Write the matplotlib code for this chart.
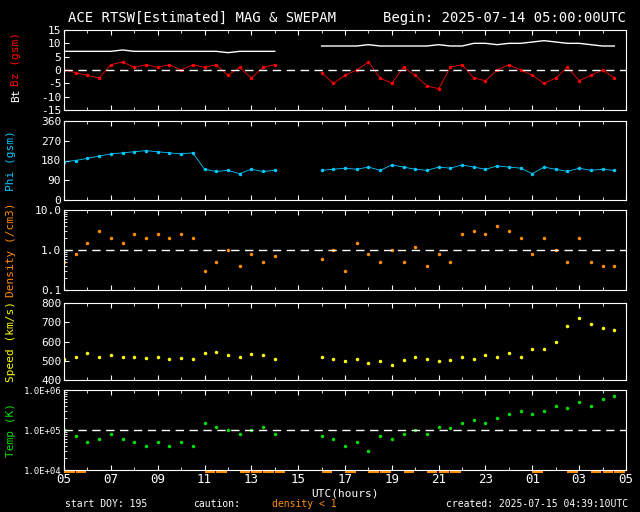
import numpy as np
import matplotlib
matplotlib.use("Agg")
import matplotlib.pyplot as plt
import matplotlib.transforms as mtransforms

nan = np.nan
# half-hour samples, hours since 2025-07-14 05:00 UTC
hours = np.arange(0, 24, 0.5)
gap = [nan, nan, nan]

bt = [7, 7, 7, 7, 7, 7.5, 7, 7, 7, 7, 7, 7, 7, 7, 6.5, 7, 7, 7, 7] + gap + \
     [9, 9, 9, 9, 9.5, 9, 9, 9, 9, 9, 9.5, 9, 9, 10, 10, 9.5, 10, 10, 10.5, 11, 10.5, 10, 10, 9.5, 9, 9]
bz = [0, -1, -2, -3, 2, 3, 1, 2, 1, 2, 0, 2, 1, 2, -2, 1, -3, 1, 2] + gap + \
     [-1, -5, -2, 0, 3, -3, -5, 1, -2, -6, -7, 1, 2, -3, -4, 0, 2, 0, -2, -5, -3, 1, -4, -2, 0, -3]
phi = [175, 180, 190, 200, 210, 215, 220, 225, 220, 215, 210, 215, 140, 130, 135, 120, 140, 130, 135] + gap + \
      [135, 140, 145, 140, 150, 135, 160, 150, 140, 135, 150, 145, 160, 150, 140, 155, 150, 145, 120, 150, 140, 130, 145, 135, 140, 135]
density = [0.5, 0.8, 1.5, 3, 2, 1.5, 2.5, 2, 2.5, 2, 2.5, 2, 0.3, 0.5, 1, 0.4, 0.8, 0.5, 0.7] + gap + \
          [0.6, 1, 0.3, 1.5, 0.8, 0.5, 1, 0.5, 1.2, 0.4, 0.8, 0.5, 2.5, 3, 2.5, 4, 3, 2, 0.8, 2, 1, 0.5, 2, 0.5, 0.4, 0.4]
speed = [510, 520, 540, 520, 530, 520, 520, 515, 520, 510, 515, 510, 540, 545, 530, 520, 535, 530, 510] + gap + \
        [520, 510, 500, 510, 490, 500, 480, 505, 520, 510, 500, 505, 520, 510, 530, 520, 540, 520, 560, 560, 600, 680, 720, 690, 670, 660]
temp = [1e5, 7e4, 5e4, 6e4, 8e4, 6e4, 5e4, 4e4, 5e4, 4e4, 5e4, 4e4, 1.5e5, 1.2e5, 1e5, 8e4, 1e5, 1.2e5, 8e4] + gap + \
       [7e4, 6e4, 4e4, 5e4, 3e4, 7e4, 6e4, 8e4, 1e5, 8e4, 1.2e5, 1.1e5, 1.5e5, 1.8e5, 1.5e5, 2e5, 2.5e5, 3e5, 2.5e5, 3e5, 4e5, 3.5e5, 5e5, 4e5, 6e5, 7e5]
tick_labels = ["05", "07", "09", "11", "13", "15", "17", "19", "21", "23", "01", "03", "05"]

bt, bz, phi, density, speed, temp = map(np.array, (bt, bz, phi, density, speed, temp))

plt.rcParams["font.family"] = "DejaVu Sans Mono"
plt.rcParams["font.size"] = 8
fig = plt.figure(figsize=(6.4, 5.12), dpi=100, facecolor="black")

rows = [(30, 110), (121, 200), (210, 290), (303, 380), (390, 470)]
axes = []
for top, bot in rows:
    ax = fig.add_axes([64 / 640, 1 - bot / 512, 562 / 640, (bot - top) / 512])
    ax.set_facecolor("black")
    for s in ax.spines.values():
        s.set_color("white")
    ax.tick_params(colors="white", direction="in", which="both", top=True, labelsize=8, pad=2)
    ax.set_xlim(0, 24)
    ax.set_xticks(np.arange(0, 25, 2))
    ax.set_xticks(np.arange(0, 25, 1), minor=True)
    ax.set_xticklabels([])
    axes.append(ax)

a1, a2, a3, a4, a5 = axes
a1.plot(hours, bt, color="white", lw=1)
a1.plot(hours, bz, color="red", lw=0.6, marker=".", ms=3)
a1.axhline(0, color="white", ls=(0, (6, 4)), lw=1)
a1.set_ylim(-15, 15)
a1.set_yticks([-15, -10, -5, 0, 5, 10, 15])
a1.set_yticklabels(["-15", "-10", "-5", "0", "5", "10", "15"])
a1.text(-0.085, 0.18, "Bt", color="white", rotation=90, transform=a1.transAxes, ha="center", va="center")
a1.text(-0.085, 0.3, "Bz (gsm)", color="red", rotation=90, transform=a1.transAxes, ha="center", va="bottom")

a2.plot(hours, phi, color="#00c8ff", lw=0.6, marker=".", ms=3)
a2.set_ylim(0, 360)
a2.set_yticks([0, 90, 180, 270, 360])
a2.set_ylabel("Phi (gsm)", color="#00c8ff")

a3.plot(hours, density, color="#ff8c00", lw=0, marker=".", ms=3)
a3.set_yscale("log")
a3.set_ylim(0.1, 10)
a3.set_yticks([0.1, 1, 10])
a3.set_yticklabels(["0.1", "1.0", "10.0"])
a3.axhline(1, color="white", ls=(0, (6, 4)), lw=1)
a3.set_ylabel("Density (/cm3)", color="#ff8c00")

a4.plot(hours, speed, color="yellow", lw=0, marker=".", ms=3)
a4.set_ylim(400, 800)
a4.set_yticks([400, 500, 600, 700, 800])
a4.set_ylabel("Speed (km/s)", color="yellow")

a5.plot(hours, temp, color="#00e000", lw=0, marker=".", ms=3)
a5.set_yscale("log")
a5.set_ylim(1e4, 1e6)
a5.set_yticks([1e4, 1e5, 1e6])
a5.set_yticklabels(["1.0E+04", "1.0E+05", "1.0E+06"], fontsize=6.5)
a5.axhline(1e5, color="white", ls=(0, (6, 4)), lw=1)
a5.set_ylabel("Temp (K)", color="#00e000")
a5.set_xticklabels(tick_labels, color="white", fontsize=9)

# density < 1 flags below the temp axis
tr = mtransforms.blended_transform_factory(a5.transData, a5.transAxes)
low = hours[density < 1]
a5.hlines([-0.03] * len(low), low, low + 0.45, color="#ff8c00", lw=1.5, transform=tr, clip_on=False)

for ax in axes:
    ax.yaxis.label.set_size(8)
    ax.yaxis.set_label_coords(-0.085, 0.5)

fig.text(68 / 640, 1 - 18 / 512, "ACE RTSW[Estimated] MAG & SWEPAM", color="white", fontsize=10, va="center")
fig.text(626 / 640, 1 - 18 / 512, "Begin: 2025-07-14 05:00:00UTC", color="white", fontsize=10, va="center", ha="right")
fig.text(345 / 640, 1 - 494 / 512, "UTC(hours)", color="white", fontsize=8, va="center", ha="center")
fig.text(65 / 640, 1 - 504 / 512, "start DOY: 195", color="white", fontsize=7, va="center")
fig.text(193 / 640, 1 - 504 / 512, "caution:", color="white", fontsize=7, va="center")
fig.text(272 / 640, 1 - 504 / 512, "density < 1", color="#ff8c00", fontsize=7, va="center")
fig.text(628 / 640, 1 - 504 / 512, "created: 2025-07-15 04:39:10UTC", color="white", fontsize=7, va="center", ha="right")

fig.savefig("out.png", dpi=100, facecolor="black")
